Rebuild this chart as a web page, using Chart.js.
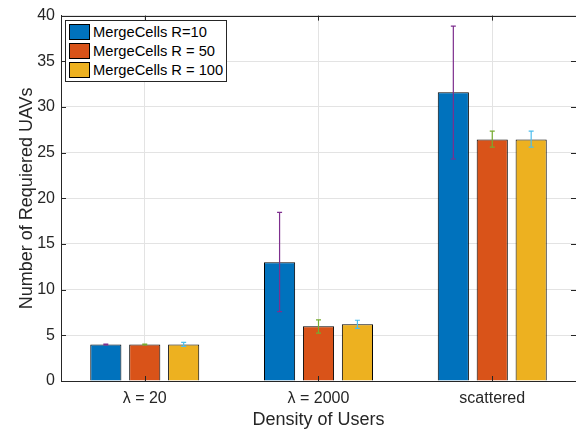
<!DOCTYPE html>
<html lang="en">
<head>
<meta charset="utf-8">
<title>Number of Requiered UAVs</title>
<script src="https://cdn.jsdelivr.net/npm/chart.js@4.4.1/dist/chart.umd.min.js"></script>
<style>
  html, body { margin: 0; padding: 0; background: #fff; }
  #wrap { position: relative; width: 576px; height: 432px; overflow: hidden; }
  #legend {
    position: absolute;
    background: #fff;
    border: 1px solid #262626;
    padding: 2px 3px 1px 3px;
    font: 14.7px "Liberation Sans", Arial, sans-serif;
    color: #000;
  }
  #legend .item { display: flex; align-items: center; height: 19px; white-space: nowrap; }
  #legend .swatch { width: 21px; height: 16px; box-sizing: border-box; border: 1px solid #000; margin-right: 3px; }
</style>
</head>
<body>
<div id="wrap">
  <canvas id="uav-chart" width="576" height="432"></canvas>
  <div id="legend"></div>
</div>
<script>
// --- Datos ---
const categories = ['λ = 20', 'λ = 2000', 'scattered'];
const seriesLabels = ['MergeCells R=10', 'MergeCells R = 50', 'MergeCells R = 100'];

const r10 = [4.0, 13.0, 31.6];
const r10Low = [3.96, 7.6, 24.3];
const r10High = [4.04, 18.45, 38.85];

const r50 = [4.0, 6.0, 26.45];
const r50Low = [3.96, 5.25, 25.6];
const r50High = [4.04, 6.7, 27.35];

const r100 = [4.0, 6.2, 26.45];
const r100Low = [3.78, 5.75, 25.6];
const r100High = [4.22, 6.65, 27.35];

const yTicks = [0, 5, 10, 15, 20, 25, 30, 35, 40];

// --- Estilo (colores MATLAB) ---
const barColors = ['#0072BD', '#D95319', '#EDB120'];
const errColors = ['#7E2F8E', '#77AC30', '#4DBEEE'];
const AXIS_COLOR = '#262626';
const GRID_COLOR = '#e3e3e3';
const TICK_LEN = 5;
const CAP = 2.5;

const seriesValues = [r10, r50, r100];
const seriesLow = [r10Low, r50Low, r100Low];
const seriesHigh = [r10High, r50High, r100High];

document.addEventListener('DOMContentLoaded', () => {
    Chart.defaults.font.family = '"Liberation Sans", Arial, sans-serif';
    Chart.defaults.color = AXIS_COLOR;
    drawChart();
});

/**
 * Barras de error (min / max) encima de cada barra.
 */
const errorBars = {
    id: 'errorBars',
    afterDatasetsDraw(chart) {
        const { ctx, scales: { y } } = chart;
        chart.data.datasets.forEach((ds, d) => {
            const meta = chart.getDatasetMeta(d);
            ctx.save();
            ctx.strokeStyle = errColors[d];
            ctx.lineWidth = 1.2;
            meta.data.forEach((bar, i) => {
                const x = bar.x;
                const top = y.getPixelForValue(seriesHigh[d][i]);
                const bot = y.getPixelForValue(seriesLow[d][i]);
                ctx.beginPath();
                ctx.moveTo(x, top); ctx.lineTo(x, bot);
                ctx.moveTo(x - CAP, top); ctx.lineTo(x + CAP, top);
                ctx.moveTo(x - CAP, bot); ctx.lineTo(x + CAP, bot);
                ctx.stroke();
            });
            ctx.restore();
        });
    }
};

/**
 * Caja de ejes estilo MATLAB: borde superior y marcas hacia dentro.
 * (el borde derecho queda fuera del lienzo, como en la figura original)
 */
const axisFrame = {
    id: 'axisFrame',
    afterDraw(chart) {
        const { ctx, chartArea: a, scales: { x, y } } = chart;
        const right = x.getPixelForValue(x.max);
        ctx.save();
        ctx.strokeStyle = AXIS_COLOR;
        ctx.lineWidth = 1;
        ctx.beginPath();
        ctx.moveTo(a.left, Math.round(a.top) + 0.5);
        ctx.lineTo(right, Math.round(a.top) + 0.5);
        y.ticks.forEach(t => {
            const py = Math.round(y.getPixelForValue(t.value)) + 0.5;
            ctx.moveTo(a.left, py); ctx.lineTo(a.left + TICK_LEN, py);
            ctx.moveTo(right, py); ctx.lineTo(right - TICK_LEN, py);
        });
        x.ticks.forEach(t => {
            const px = Math.round(x.getPixelForValue(t.value)) + 0.5;
            ctx.moveTo(px, a.bottom); ctx.lineTo(px, a.bottom - TICK_LEN);
            ctx.moveTo(px, a.top); ctx.lineTo(px, a.top + TICK_LEN);
        });
        ctx.stroke();
        ctx.restore();
    }
};

function drawChart() {
    const canvas = document.getElementById('uav-chart');

    const datasets = seriesLabels.map((label, d) => ({
        label: label,
        data: seriesValues[d].map((v, i) => ({ x: i + 1, y: v })),
        backgroundColor: barColors[d],
        borderColor: '#000',
        borderWidth: 1,
        categoryPercentage: 0.672,
        barPercentage: 0.8
    }));

    const chart = new Chart(canvas, {
        type: 'bar',
        data: { datasets: datasets },
        options: {
            responsive: false,
            animation: false,
            layout: { padding: { top: 12, right: -1, bottom: 0, left: 0 } },
            plugins: {
                legend: { display: false },
                tooltip: { enabled: false }
            },
            scales: {
                x: {
                    type: 'linear',
                    min: 0.518,
                    max: 3.482,
                    offset: false,
                    afterBuildTicks: scale => {
                        scale.ticks = categories.map((c, i) => ({ value: i + 1 }));
                    },
                    afterFit: scale => { scale.height = 51; },
                    ticks: {
                        callback: v => categories[Math.round(v) - 1] || '',
                        font: { size: 16 },
                        color: AXIS_COLOR,
                        padding: 8,
                        maxRotation: 0,
                        autoSkip: false
                    },
                    grid: { color: GRID_COLOR, drawTicks: false, offset: false },
                    border: { color: AXIS_COLOR, width: 1 },
                    title: {
                        display: true,
                        text: 'Density of Users',
                        font: { size: 18 },
                        color: AXIS_COLOR,
                        padding: { top: 0, bottom: 1 }
                    }
                },
                y: {
                    min: 0,
                    max: 40,
                    afterBuildTicks: scale => {
                        scale.ticks = yTicks.map(v => ({ value: v }));
                    },
                    afterFit: scale => { scale.width = 61; },
                    ticks: {
                        font: { size: 16 },
                        color: AXIS_COLOR,
                        padding: 6
                    },
                    grid: { color: GRID_COLOR, drawTicks: false },
                    border: { color: AXIS_COLOR, width: 1 },
                    title: {
                        display: true,
                        text: 'Number of Requiered UAVs',
                        font: { size: 18 },
                        color: AXIS_COLOR,
                        padding: { top: 16, bottom: 0 }
                    }
                }
            }
        },
        plugins: [errorBars, axisFrame]
    });

    buildLegend(chart);
}

/**
 * Leyenda en HTML dentro del área de ejes (arriba a la izquierda).
 */
function buildLegend(chart) {
    const legend = document.getElementById('legend');
    legend.innerHTML = seriesLabels.map((label, d) =>
        `<div class="item"><span class="swatch" style="background:${barColors[d]}"></span>${label}</div>`
    ).join('');
    legend.style.left = (chart.chartArea.left + 4) + 'px';
    legend.style.top = (chart.chartArea.top + 4) + 'px';
}
</script>
</body>
</html>
